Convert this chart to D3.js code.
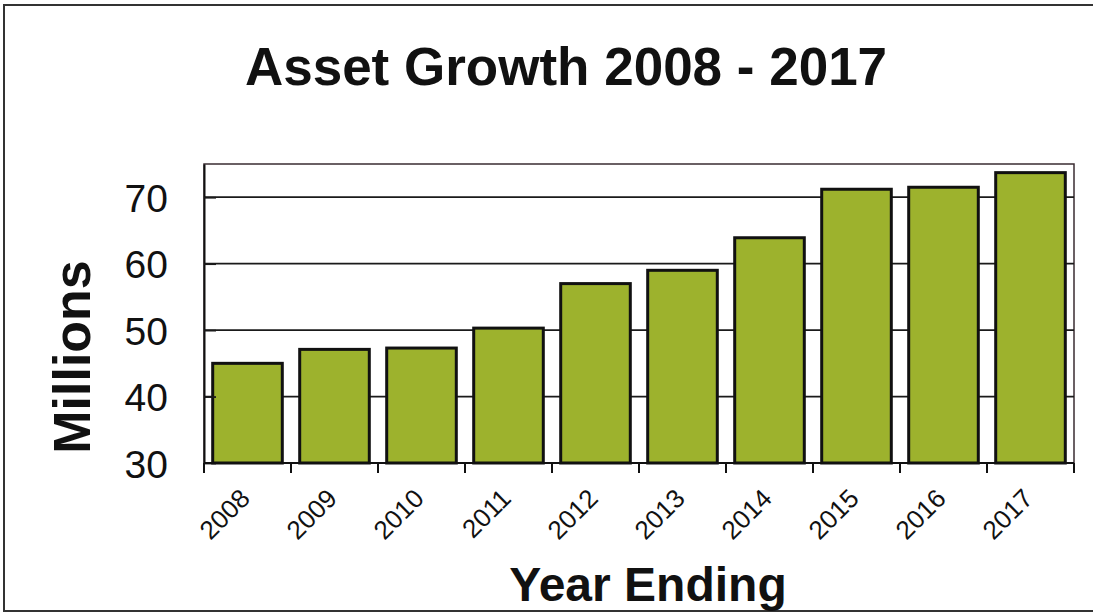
<!DOCTYPE html>
<html>
<head>
<meta charset="utf-8">
<script src="https://cdn.jsdelivr.net/npm/d3@7"></script>
<style>
  html, body { margin: 0; padding: 0; background: #fff; }
  svg { display: block; font-family: "Liberation Sans", Arial, sans-serif; }
</style>
</head>
<body>
<div id="chart"></div>
<script>
// Chart data
const years = ["2008", "2009", "2010", "2011", "2012", "2013", "2014", "2015", "2016", "2017"];
const assets = [45.0, 47.1, 47.3, 50.3, 57.0, 59.0, 63.9, 71.2, 71.5, 73.7];
const yTicks = [30, 40, 50, 60, 70];
const titleText = "Asset Growth 2008 - 2017";
const xTitle = "Year Ending";
const yTitle = "Millions";

const width = 1093;
const height = 614;

// Plot area
const plot = {left: 204, right: 1074, top: 164, bottom: 463};

const svg = d3.select("#chart")
    .append("svg")
        .attr("width", width)
        .attr("height", height);

// Outer frame of the scanned chart
svg.append("rect")
    .attr("x", 4)
    .attr("y", 5)
    .attr("width", 1100)
    .attr("height", 606)
    .attr("fill", "#fff")
    .attr("stroke", "#333")
    .attr("stroke-width", 2);

// Scales
const x = d3.scaleBand()
    .domain(years)
    .range([plot.left, plot.right])
    .paddingInner(0.2)
    .paddingOuter(0.1);

const y = d3.scaleLinear()
    .domain([30, 75])
    .range([plot.bottom, plot.top]);

// Plot frame (top and right edges)
svg.append("rect")
    .attr("x", plot.left)
    .attr("y", plot.top)
    .attr("width", plot.right - plot.left)
    .attr("height", plot.bottom - plot.top)
    .attr("fill", "none")
    .attr("stroke", "#3a2c32")
    .attr("stroke-width", 1.5);

// Gridlines behind bars
svg.append("g")
    .selectAll("line")
    .data(yTicks.filter(d => d > 30))
    .enter().append("line")
        .attr("x1", plot.left)
        .attr("x2", plot.right)
        .attr("y1", d => y(d))
        .attr("y2", d => y(d))
        .attr("stroke", "#1a1a1a")
        .attr("stroke-width", 1.8);

// Bars
svg.append("g")
    .selectAll("rect")
    .data(years)
    .enter().append("rect")
        .attr("x", d => x(d))
        .attr("y", (d, i) => y(assets[i]))
        .attr("width", x.bandwidth())
        .attr("height", (d, i) => y(30) - y(assets[i]))
        .attr("fill", "#9db22d")
        .attr("stroke", "#111")
        .attr("stroke-width", 3);

// Y axis (ticks point inward)
const yAxis = svg.append("g")
    .attr("transform", "translate(" + plot.left + ",0)")
    .call(d3.axisLeft(y).tickValues(yTicks).tickSizeInner(-12).tickSizeOuter(0).tickPadding(36));
yAxis.select(".domain").attr("stroke", "#111").attr("stroke-width", 2);
yAxis.selectAll(".tick line").attr("stroke", "#1a1a1a").attr("stroke-width", 1.8);
yAxis.selectAll("text")
    .attr("font-size", 39)
    .attr("fill", "#111")
    .attr("dy", "0.36em");

// X axis line
svg.append("line")
    .attr("x1", plot.left)
    .attr("x2", plot.right)
    .attr("y1", plot.bottom)
    .attr("y2", plot.bottom)
    .attr("stroke", "#111")
    .attr("stroke-width", 2);

// X ticks at the category boundaries
const boundaries = years.map(d => x(d) - x.step() * x.paddingInner() / 2);
boundaries.push(plot.right);
svg.append("g")
    .selectAll("line")
    .data(boundaries)
    .enter().append("line")
        .attr("x1", d => d)
        .attr("x2", d => d)
        .attr("y1", plot.bottom)
        .attr("y2", plot.bottom + 10)
        .attr("stroke", "#111")
        .attr("stroke-width", 2);

// X tick labels, rotated
svg.append("g")
    .selectAll("text")
    .data(years)
    .enter().append("text")
        .attr("transform", d => "translate(" + (x(d) + x.bandwidth() / 2 + 4) + "," + (plot.bottom + 37) + ") rotate(-45)")
        .attr("text-anchor", "end")
        .attr("font-size", 26)
        .attr("fill", "#111")
        .text(d => d);

// Title
svg.append("text")
    .attr("x", 566)
    .attr("y", 85)
    .attr("text-anchor", "middle")
    .attr("font-size", 53)
    .attr("font-weight", "bold")
    .attr("fill", "#111")
    .text(titleText);

// Axis titles
svg.append("text")
    .attr("x", 648)
    .attr("y", 601)
    .attr("text-anchor", "middle")
    .attr("font-size", 48)
    .attr("font-weight", "bold")
    .attr("fill", "#111")
    .text(xTitle);

svg.append("text")
    .attr("transform", "translate(90,357) rotate(-90)")
    .attr("text-anchor", "middle")
    .attr("font-size", 52)
    .attr("font-weight", "bold")
    .attr("fill", "#111")
    .text(yTitle);
</script>
</body>
</html>
